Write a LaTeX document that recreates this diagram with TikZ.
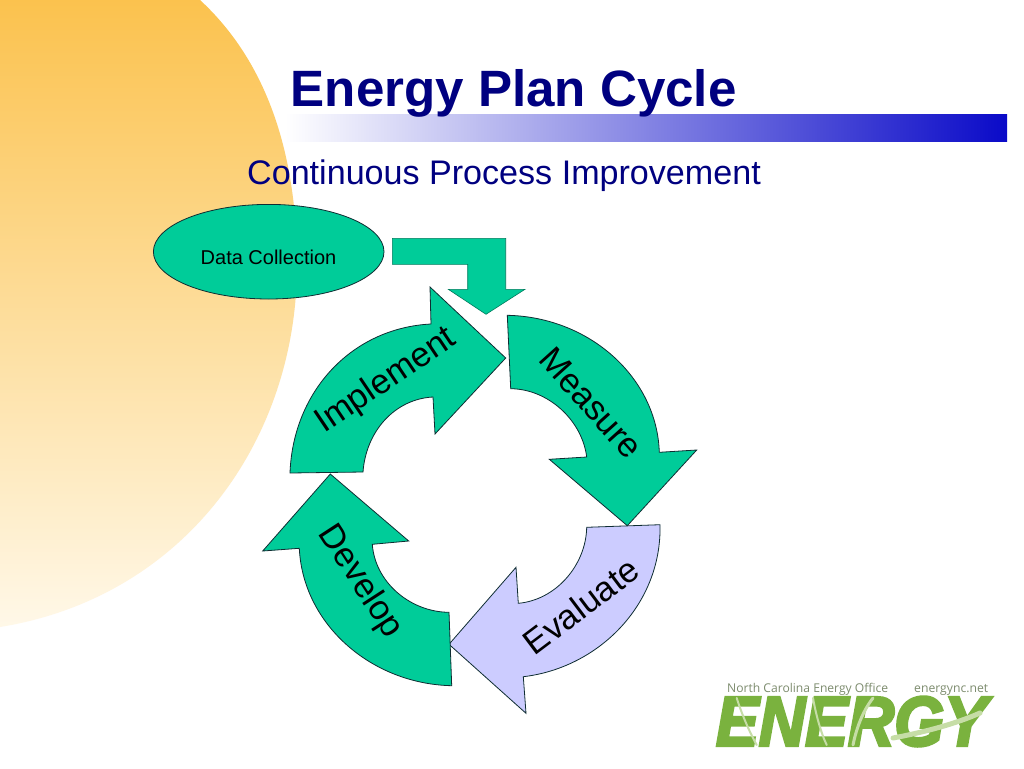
\documentclass[tikz,border=0pt]{standalone}
\usepackage{fontspec}
\usepackage{graphicx}
\usetikzlibrary{shapes.geometric}
\setmainfont{Liberation Sans}
\newfontfamily\logofont[FakeBold=4]{Liberation Sans Bold Italic}
\newfontfamily\logosmall{Open Sans}
\definecolor{navytext}{RGB}{0,0,128}
\definecolor{arrowgreen}{RGB}{0,204,153}
\definecolor{arrowlilac}{RGB}{204,204,255}
\definecolor{arrowline}{RGB}{15,45,50}
\definecolor{logogreen}{RGB}{122,178,62}
\definecolor{logolight}{RGB}{198,221,166}
\definecolor{logotext}{RGB}{125,140,110}
\tikzset{
  blockgreen/.style={fill=arrowgreen,draw=arrowline,line width=0.8pt,line join=miter},
  blocklilac/.style={fill=arrowlilac,draw=arrowline,line width=0.8pt,line join=miter},
  cyclelabel/.style={font=\fontsize{34.6}{38}\selectfont,text=black,inner sep=0pt},
  logostreak/.style={draw=logolight,line width=2pt,line cap=round}
}
\begin{document}
\begin{tikzpicture}[x=1pt,y=-1pt]
\useasboundingbox (0,0) rectangle (1024,768);
\fill[white] (0,0) rectangle (1024,768);
% sun disc
\path[top color={rgb,255:red,251;green,194;blue,78},bottom color={rgb,255:red,255;green,248;blue,232}]
  (200,0) .. controls (265,60) and (297,150) .. (297,265) .. controls (297,440) and (185,597) .. (0,627) -- (0,0) -- cycle;
% title bar
\path[left color=white,middle color={rgb,255:red,165;green,165;blue,222},right color={rgb,255:red,10;green,10;blue,200}] (285,114) rectangle (1007,141);
\node[anchor=base west,inner sep=0pt,text=navytext,font=\fontsize{51.1}{56}\selectfont\bfseries] (title) at (290.5,106) {Energy Plan Cycle};
\node[anchor=base west,inner sep=0pt,text=navytext,font=\fontsize{34.1}{38}\selectfont] (subtitle) at (247,184) {Continuous Process Improvement};
% data collection
\node[ellipse,blockgreen,minimum width=230.6pt,minimum height=94.6pt,inner sep=0pt] (datashape) at (268.7,251.7) {};
\node[inner sep=0pt,font=\fontsize{20}{24}\selectfont,text=black] (datatext) at (268.5,257) {Data Collection};
% bent arrow
\path[fill=arrowgreen,draw=arrowgreen!60!black,line width=0.6pt] (392.3,238.3) -- (505.7,238.3) -- (505.7,289.3) -- (525,289.3) -- (486,314.3) -- (448.3,289.3) -- (467.7,289.3) -- (467.7,264.3) -- (392.3,264.3) -- cycle;
% implement
\path[blockgreen] (290,473) .. controls (293,391) and (352,328) .. (431,324) -- (430,287) -- (505.7,358) -- (435,434) -- (433,397) .. controls (395,399) and (366,431) .. (363,472) -- cycle;
% measure
\path[blockgreen] (507.3,315.3) .. controls (590,317) and (657,378) .. (659.3,452.3) -- (696.7,450) -- (627.3,525.7) -- (549.3,459.3) -- (586.7,457) .. controls (582,420) and (548,389) .. (510.7,388.7) -- cycle;
% evaluate
\path[blocklilac] (660,524.7) -- (586.7,527.3) .. controls (586,565) and (556,600) .. (518.3,603.3) -- (516,567.3) -- (449,644.3) -- (526,713.3) -- (523.3,676.7) .. controls (598,668) and (662,605) .. (660,524.7) -- cycle;
% develop
\path[blockgreen] (449,612.3) -- (451.7,685.7) .. controls (372,684) and (303,625) .. (299.3,548.3) -- (262.7,551) -- (330.3,474) -- (408.7,541) -- (372.3,544.3) .. controls (375,582) and (410,612) .. (449,612.3) -- cycle;
% labels
\node[cyclelabel,rotate=34] (implement) at (386,381) {Implement};
\node[cyclelabel,rotate=-48] (measure) at (591,403) {Measure};
\node[cyclelabel,rotate=37] (evaluate) at (581,606) {Evaluate};
\node[cyclelabel,rotate=-57] (develop) at (360,582) {Develop};
% logo
\node[anchor=base west,inner sep=0pt,text=logotext,font=\logosmall] (logoname) at (727,692) {\resizebox{161pt}{!}{North Carolina Energy Office}};
\node[anchor=base west,inner sep=0pt,text=logotext,font=\logosmall] (logourl) at (914,692) {\resizebox{74pt}{!}{energync.net}};
\node[inner sep=0pt,text=logogreen,font=\logofont] (logoword) at (851.5,721.5) {\resizebox{271pt}{49pt}{ENERGY}};
\draw[logostreak] (736.7,698) .. controls (742,715) and (750,733) .. (756.7,745);
\draw[logostreak] (813,698) .. controls (816,715) and (821,733) .. (826.7,745);
\draw[logostreak,line width=3pt] (873,698) .. controls (862,712) and (856,730) .. (853,745);
\draw[logostreak,line width=5pt] (893,738) .. controls (925,732) and (955,724) .. (980,713);
\end{tikzpicture}
\end{document}
